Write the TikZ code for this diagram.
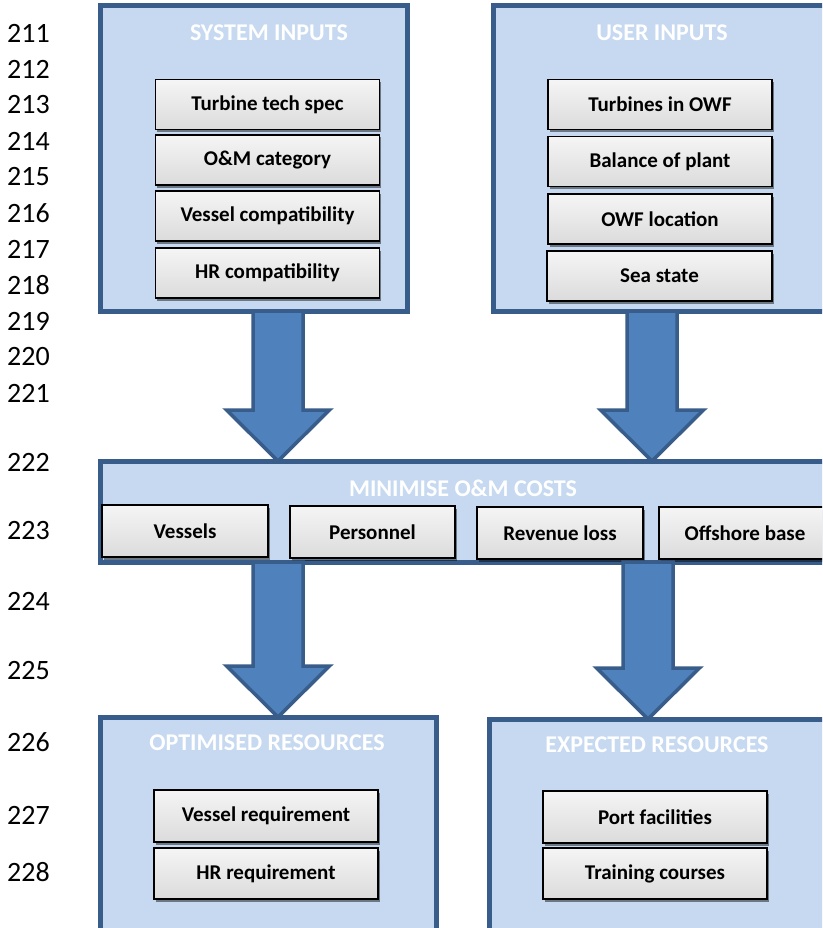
\documentclass[tikz,border=0pt]{standalone}
\usepackage{fontspec}
\setmainfont{Carlito}
\usetikzlibrary{calc,shadows}
\definecolor{boxfill}{HTML}{C6D9F1}
\definecolor{boxline}{HTML}{385D8A}
\definecolor{arrowfill}{HTML}{4F81BD}
\tikzset{
 bigbox/.style={draw=boxline, fill=boxfill, line width=5pt, anchor=north west, inner sep=0pt, outer sep=0pt},
 boxtitle/.style={text=white, font=\fontsize{24}{28}\selectfont\bfseries, inner sep=0pt},
 gbox/.style={draw=black, line width=1.5pt, top color=gray!8, bottom color=gray!28,
   drop shadow={shadow xshift=1.5pt, shadow yshift=-2.5pt, fill=black, opacity=0.45},
   font=\fontsize{21}{25}\selectfont\bfseries, inner sep=0pt, outer sep=0pt, minimum height=50pt},
 fatarrow/.style={fill=arrowfill, draw=boxline, line width=3.5pt, line join=miter},
 lineno/.style={font=\fontsize{28}{32}\selectfont, anchor=west, inner sep=0pt}
}
\newcommand\fatarrow[2]{\draw[fatarrow] let \p1=(#1), \p2=(#2) in
  (\x1-25pt,\y1) -- (\x1-25pt,\y2+51pt) -- (\x1-51.5pt,\y2+51pt) -- (\x2,\y2)
  -- (\x1+51.5pt,\y2+51pt) -- (\x1+25pt,\y2+51pt) -- (\x1+25pt,\y1) -- cycle;}
\begin{document}
\begin{tikzpicture}[x=1pt,y=-1pt]
\useasboundingbox (0,0) rectangle (822,928);
\fill[white] (0,0) rectangle (822,928);
\clip (0,0) rectangle (822,928);

% line numbers
\foreach \n/\yy in {211/33,212/69,213/105,214/141,215/177,216/213,217/249,218/285,219/321,220/357,221/393,222/462,223/531,224/601,225/671,226/742,227/815,228/872}
  \node[lineno] (ln\n) at (7,\yy) {\n};

% big boxes
\node[bigbox, minimum width=307pt, minimum height=305.5pt] (sys) at (100,5.5) {};
\node[bigbox, minimum width=350pt, minimum height=305.5pt] (usr) at (493,5.5) {};
\node[bigbox, minimum width=750pt, minimum height=101pt] (band) at (100,461) {};
\node[bigbox, minimum width=336pt, minimum height=250pt] (opt) at (100,717) {};
\node[bigbox, minimum width=360pt, minimum height=250pt] (exp) at (489,719) {};

% titles
\node[boxtitle] (sysT) at (269,33) {SYSTEM INPUTS};
\node[boxtitle] (usrT) at (662,33) {USER INPUTS};
\node[boxtitle] (bandT) at (463,488) {MINIMISE O\&M COSTS};
\node[boxtitle] (optT) at (267,743) {OPTIMISED RESOURCES};
\node[boxtitle] (expT) at (657,745) {EXPECTED RESOURCES};

% system inputs
\node[gbox, minimum width=224pt] (s1) at (267.5,104.5) {Turbine tech spec};
\node[gbox, minimum width=224pt] (s2) at (267.5,160) {O\&M category};
\node[gbox, minimum width=224pt] (s3) at (267.5,216) {Vessel compatibility};
\node[gbox, minimum width=224pt] (s4) at (267.5,273) {HR compatibility};

% user inputs
\node[gbox, minimum width=224pt] (u1) at (660,104.5) {Turbines in OWF};
\node[gbox, minimum width=224pt] (u2) at (660,161.5) {Balance of plant};
\node[gbox, minimum width=224pt] (u3) at (660,219) {OWF location};
\node[gbox, minimum width=225pt] (u4) at (659.5,276) {Sea state};

% band boxes
\node[gbox, minimum width=166pt, minimum height=52pt] (b1) at (185,531) {Vessels};
\node[gbox, minimum width=165pt, minimum height=52pt] (b2) at (372.5,532) {Personnel};
\node[gbox, minimum width=166pt, minimum height=52pt] (b3) at (560,533) {Revenue loss};
\node[gbox, minimum width=172pt, minimum height=52pt] (b4) at (745,533) {Offshore base};

% outputs
\node[gbox, minimum width=224pt, minimum height=52pt] (o1) at (266,816) {Vessel requirement};
\node[gbox, minimum width=224pt, minimum height=51pt] (o2) at (266,873.5) {HR requirement};
\node[gbox, minimum width=224pt, minimum height=52pt] (e1) at (655,817) {Port facilities};
\node[gbox, minimum width=224pt, minimum height=51pt] (e2) at (655,873.5) {Training courses};

% arrows
\coordinate (a1) at (278,0);
\coordinate (a2) at (652,0);
\coordinate (a3) at (278,0);
\coordinate (a4) at (648,0);
\fatarrow{sys.south -| a1}{band.north -| a1}
\fatarrow{usr.south -| a2}{band.north -| a2}
\fatarrow{band.south -| a3}{opt.north -| a3}
\fatarrow{band.south -| a4}{exp.north -| a4}
\end{tikzpicture}
\end{document}
